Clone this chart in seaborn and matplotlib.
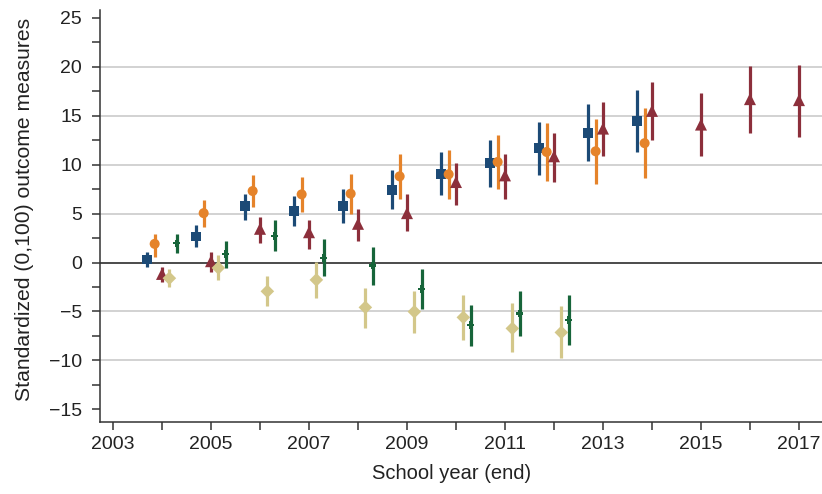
import numpy as np
import pandas as pd
import matplotlib
matplotlib.use("Agg")
import matplotlib.pyplot as plt
from matplotlib.ticker import MultipleLocator, FixedLocator
import seaborn as sns

# Estimates with 95% interval bounds, by end of school year
years_a = [2004, 2005, 2006, 2007, 2008, 2009, 2010, 2011, 2012, 2013, 2014]
a_mid = [0.31, 2.66, 5.74, 5.26, 5.77, 7.45, 9.09, 10.18, 11.71, 13.28, 14.45]
a_lo = [-0.48, 1.57, 4.30, 3.72, 4.06, 5.43, 6.86, 7.72, 8.98, 10.38, 11.30]
a_hi = [1.13, 3.79, 7.04, 6.76, 7.55, 9.43, 11.30, 12.57, 14.38, 16.19, 17.60]

years_b = [2004, 2005, 2006, 2007, 2008, 2009, 2010, 2011, 2012, 2013, 2014]
b_mid = [1.91, 5.05, 7.31, 6.97, 7.04, 8.81, 9.02, 10.28, 11.30, 11.37, 12.20]
b_lo = [0.54, 3.62, 5.67, 5.15, 4.99, 6.53, 6.52, 7.48, 8.30, 8.06, 8.65]
b_hi = [2.87, 6.35, 8.90, 8.74, 9.02, 11.07, 11.48, 13.00, 14.31, 14.62, 15.75]

years_c = [2004, 2005, 2006, 2007, 2008, 2009, 2010, 2011, 2012, 2013, 2014, 2015, 2016, 2017]
c_mid = [-1.16, 0.14, 3.45, 3.10, 3.96, 5.05, 8.23, 8.91, 10.86, 13.69, 15.50, 14.10, 16.70, 16.60]
c_lo = [-2.00, -0.99, 1.98, 1.40, 2.25, 3.21, 5.91, 6.52, 8.23, 10.86, 12.50, 10.90, 13.25, 12.85]
c_hi = [-0.45, 1.13, 4.64, 4.37, 5.50, 7.04, 10.21, 11.13, 13.28, 16.36, 18.40, 17.30, 20.10, 20.20]

years_d = [2004, 2005, 2006, 2007, 2008, 2009, 2010, 2011, 2012]
d_mid = [-1.60, -0.55, -2.94, -1.77, -4.58, -5.02, -5.60, -6.73, -7.14]
d_lo = [-2.50, -1.77, -4.47, -3.62, -6.65, -7.15, -7.92, -9.19, -9.77]
d_hi = [-0.65, 0.79, -1.33, 0.03, -2.60, -2.88, -3.28, -4.17, -4.41]

years_e = [2004, 2005, 2006, 2007, 2008, 2009, 2010, 2011, 2012]
e_mid = [1.98, 0.89, 2.70, 0.48, -0.31, -2.70, -6.39, -5.19, -5.88]
e_lo = [0.95, -0.55, 1.16, -1.33, -2.25, -4.77, -8.57, -7.55, -8.40]
e_hi = [2.94, 2.25, 4.30, 2.36, 1.57, -0.65, -4.34, -2.94, -3.31]

x_ticks = list(range(2003, 2018))
x_tick_labels = [str(y) if y % 2 == 1 else "" for y in x_ticks]

series = {
    "a": (years_a, a_mid, a_lo, a_hi),
    "b": (years_b, b_mid, b_lo, b_hi),
    "c": (years_c, c_mid, c_lo, c_hi),
    "d": (years_d, d_mid, d_lo, d_hi),
    "e": (years_e, e_mid, e_lo, e_hi),
}

# drawing styles: horizontal dodge, colour, marker, marker area
styles = {
    "a": dict(dx=-0.30, color="#1c4a76", marker="s", s=50),
    "b": dict(dx=-0.15, color="#e5832a", marker="o", s=52),
    "c": dict(dx=0.00, color="#8c2f3b", marker="^", s=75),
    "d": dict(dx=0.15, color="#d3c78a", marker="D", s=48),
    "e": dict(dx=0.30, color="#17653a", marker="P", s=28),
}

frames = []
for key, (yrs, mid, lo, hi) in series.items():
    frames.append(pd.DataFrame({"series": key, "year": yrs, "mid": mid, "lo": lo, "hi": hi}))
df = pd.concat(frames, ignore_index=True)
df["xpos"] = df["year"] + df["series"].map({k: v["dx"] for k, v in styles.items()})

sns.set_theme(style="white")
plt.rcParams["font.family"] = ["Liberation Sans", "DejaVu Sans"]
plt.rcParams["axes.unicode_minus"] = True

fig = plt.figure(figsize=(8.22, 4.94), dpi=100)
ax = fig.add_axes([0.1217, 0.145, 0.8783, 0.8346])

# reference lines
for yv in [-10, -5, 5, 10, 15, 20]:
    ax.axhline(yv, color="#d2d2d2", lw=1.4, zorder=0)
ax.axhline(0, color="#1a1a1a", lw=1.1, zorder=1)

for key in series:
    st = styles[key]
    sub = df[df["series"] == key]
    ax.vlines(sub["xpos"], sub["lo"], sub["hi"], color=st["color"], lw=2.3, zorder=2)
    sns.scatterplot(data=sub, x="xpos", y="mid", color=st["color"], marker=st["marker"],
                    s=st["s"], linewidth=0, edgecolor="none", ax=ax, zorder=3, legend=False)

ax.set_xlim(2002.735, 2017.47)
ax.set_ylim(-16.33, 25.8)

ax.xaxis.set_major_locator(FixedLocator(x_ticks))
ax.set_xticklabels(x_tick_labels)
ax.yaxis.set_major_locator(MultipleLocator(5))
ax.yaxis.set_minor_locator(MultipleLocator(2.5))

ax.tick_params(axis="both", which="both", direction="out", length=6, width=1.1,
               color="#333333", labelsize=14, labelcolor="#222222")
ax.tick_params(axis="x", which="major", pad=4)
ax.tick_params(axis="y", which="major", pad=7)
ax.tick_params(left=True, bottom=True, which="both")

for side in ["top", "right"]:
    ax.spines[side].set_visible(False)
for side in ["left", "bottom"]:
    ax.spines[side].set_color("#333333")
    ax.spines[side].set_linewidth(1.1)

ax.set_xlabel("School year (end)", fontsize=14.5, color="#222222")
ax.set_ylabel("Standardized (0,100) outcome measures", fontsize=15.2, color="#222222")
ax.yaxis.set_label_coords(-0.092, 0.516)
ax.xaxis.set_label_coords(0.487, -0.1)

fig.savefig("out.png", dpi=100)
